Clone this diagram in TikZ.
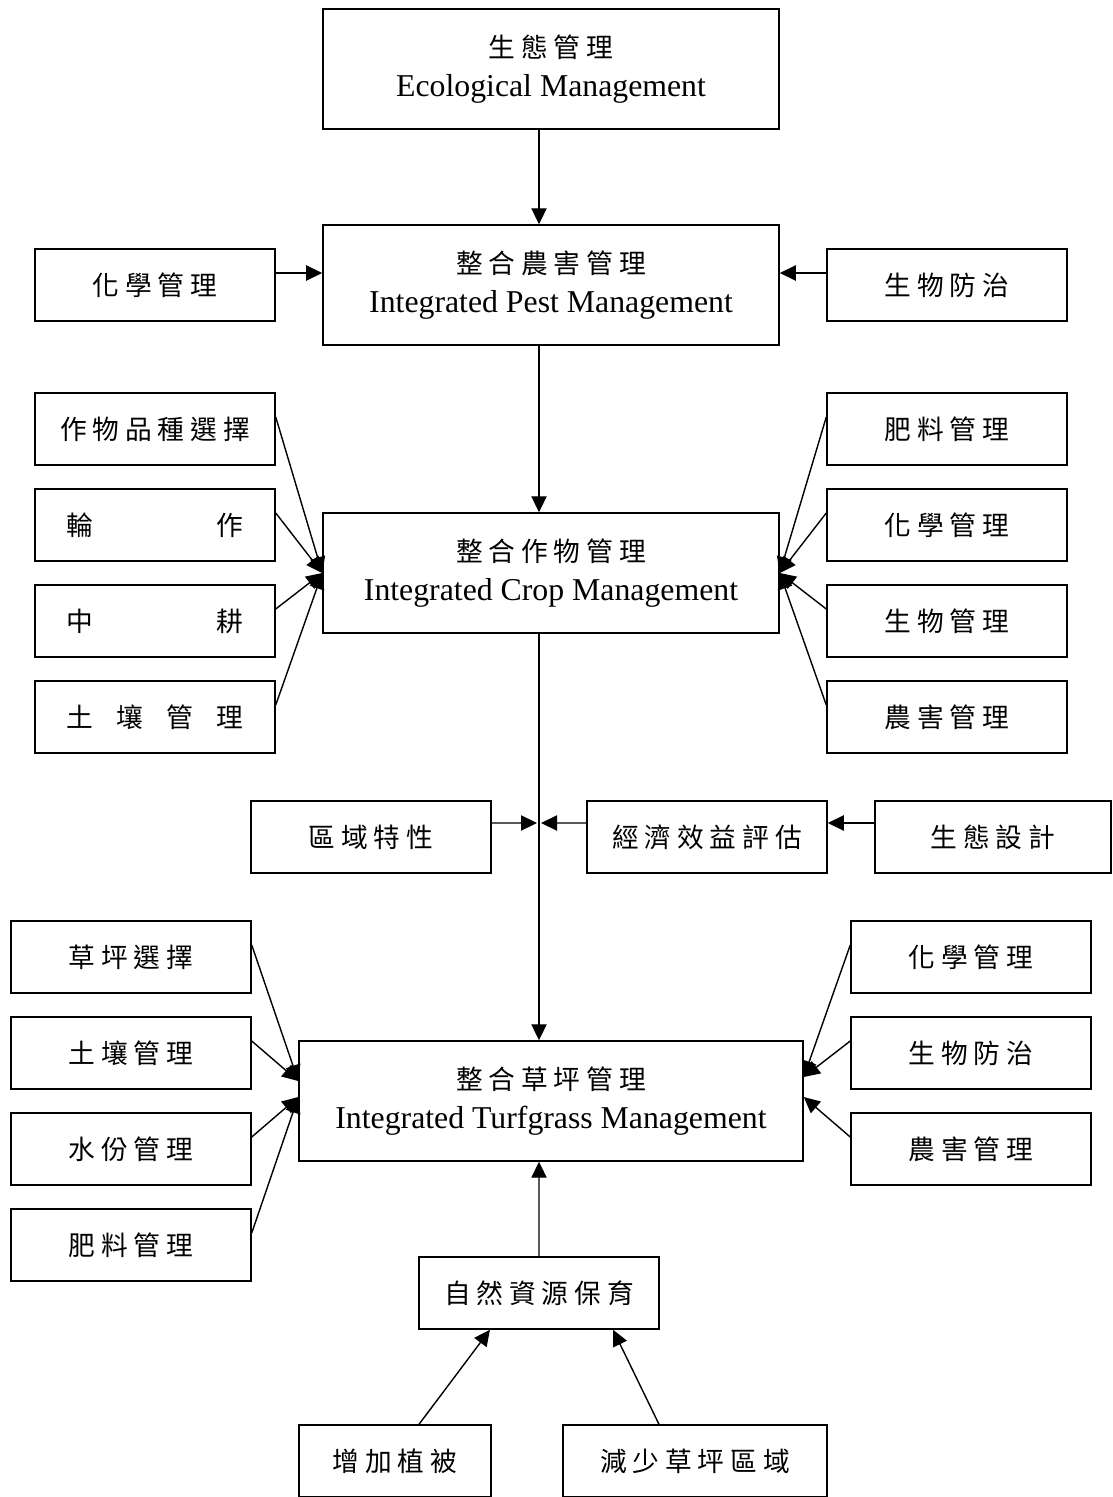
\documentclass[tikz,border=0pt]{standalone}
\usepackage{fontspec}
\setmainfont{Liberation Serif}
\newfontfamily\cjk[LetterSpace=22]{Noto Sans CJK TC}
\usetikzlibrary{arrows.meta}
\newcommand{\zh}[1]{{\fontsize{19}{20}\cjk #1}}

\begin{document}
\begin{tikzpicture}[x=0.025cm, y=-0.025cm]
	\tikzset{nd/.style={draw=black, line width=1pt, inner sep=0pt, minimum width=6cm, minimum height=1.8cm, font=\fontsize{19}{20}\cjk}};
	\tikzset{big/.style={draw=black, line width=1pt, inner sep=0pt, minimum width=11.4cm, minimum height=3cm, align=center, font=\fontsize{22.6}{27.7}\selectfont}};
	\tikzset{arr/.style={line width=1pt, -{Triangle[length=0.4cm, width=0.38cm]}}};

	\useasboundingbox (0,0) rectangle (1112,1497);

	\node[big] (eco) at (551,69) {\zh{生態管理}\\Ecological Management};
	\node[big] (ipm) at (551,285) {\zh{整合農害管理}\\Integrated Pest Management};
	\node[nd] (chemA) at (155,285) {化學管理};
	\node[nd] (bioA) at (947,285) {生物防治};

	\node[nd] (cl1) at (155,429) {作物品種選擇};
	\node[nd] (cl2) at (155,525) {\makebox[4.4cm]{輪\hfill{}作}};
	\node[nd] (cl3) at (155,621) {\makebox[4.4cm]{中\hfill{}耕}};
	\node[nd] (cl4) at (155,717) {\makebox[4.4cm]{土\hfill{}壤\hfill{}管\hfill{}理}};
	\node[big] (icm) at (551,573) {\zh{整合作物管理}\\Integrated Crop Management};
	\node[nd] (cr1) at (947,429) {肥料管理};
	\node[nd] (cr2) at (947,525) {化學管理};
	\node[nd] (cr3) at (947,621) {生物管理};
	\node[nd] (cr4) at (947,717) {農害管理};

	\node[nd] (reg) at (371,837) {區域特性};
	\node[nd] (econ) at (707,837) {經濟效益評估};
	\node[nd, minimum width=5.9cm] (ecod) at (993,837) {生態設計};
	\coordinate (mid) at (539,823);

	\node[nd] (tl1) at (131,957) {草坪選擇};
	\node[nd] (tl2) at (131,1053) {土壤管理};
	\node[nd] (tl3) at (131,1149) {水份管理};
	\node[nd] (tl4) at (131,1245) {肥料管理};
	\node[big, minimum width=12.6cm] (itm) at (551,1101) {\zh{整合草坪管理}\\Integrated Turfgrass Management};
	\node[nd] (tr1) at (971,957) {化學管理};
	\node[nd] (tr2) at (971,1053) {生物防治};
	\node[nd] (tr3) at (971,1149) {農害管理};

	\node[nd] (cons) at (539,1293) {自然資源保育};
	\node[nd, minimum width=4.8cm] (veg) at (395,1461) {增加植被};
	\node[nd, minimum width=6.6cm] (red) at (695,1461) {減少草坪區域};

	\draw[arr] ([xshift=-0.3cm]eco.south) to ([xshift=-0.3cm]ipm.north);
	\draw[arr] ([yshift=0.3cm]chemA.east) to ([yshift=0.3cm]ipm.west);
	\draw[arr] ([yshift=0.3cm]bioA.west) to ([yshift=0.3cm]ipm.east);

	\draw[arr] ([xshift=-0.3cm]ipm.south) to ([xshift=-0.3cm]icm.north);
	\draw[arr] ([yshift=0.3cm]cl1.east) to (icm.west);
	\draw[arr] ([yshift=0.3cm]cl2.east) to (icm.west);
	\draw[arr] ([yshift=0.3cm]cl3.east) to (icm.west);
	\draw[arr] ([yshift=0.3cm]cl4.east) to (icm.west);
	\draw[arr] ([yshift=0.3cm]cr1.west) to (icm.east);
	\draw[arr] ([yshift=0.3cm]cr2.west) to (icm.east);
	\draw[arr] ([yshift=0.3cm]cr3.west) to (icm.east);
	\draw[arr] ([yshift=0.3cm]cr4.west) to (icm.east);

	\draw[arr] ([xshift=-0.3cm]icm.south) to ([xshift=-0.3cm]itm.north);
	\draw[arr] ([yshift=0.35cm]reg.east) to ([xshift=-0.05cm]mid);
	\draw[arr] ([yshift=0.35cm]econ.west) to ([xshift=0.05cm]mid);
	\draw[arr] ([yshift=0.35cm]ecod.west) to ([yshift=0.35cm]econ.east);

	\draw[arr] ([yshift=0.3cm]tl1.east) to ([yshift=0.5cm]itm.west);
	\draw[arr] ([yshift=0.3cm]tl2.east) to ([yshift=0.5cm]itm.west);
	\draw[arr] ([yshift=0.3cm]tl3.east) to ([yshift=0.1cm]itm.west);
	\draw[arr] ([yshift=0.3cm]tl4.east) to ([yshift=0.1cm]itm.west);
	\draw[arr] ([yshift=0.3cm]tr1.west) to ([yshift=0.6cm]itm.east);
	\draw[arr] ([yshift=0.3cm]tr2.west) to ([yshift=0.6cm]itm.east);
	\draw[arr] ([yshift=0.3cm]tr3.west) to ([yshift=0.1cm]itm.east);

	\draw[arr] (cons.north) to ([xshift=-0.3cm]itm.south);
	\draw[arr] ([xshift=0.6cm]veg.north) to ([xshift=-1.225cm]cons.south);
	\draw[arr] ([xshift=-0.9cm]red.north) to ([xshift=1.85cm]cons.south);
\end{tikzpicture}
\end{document}
